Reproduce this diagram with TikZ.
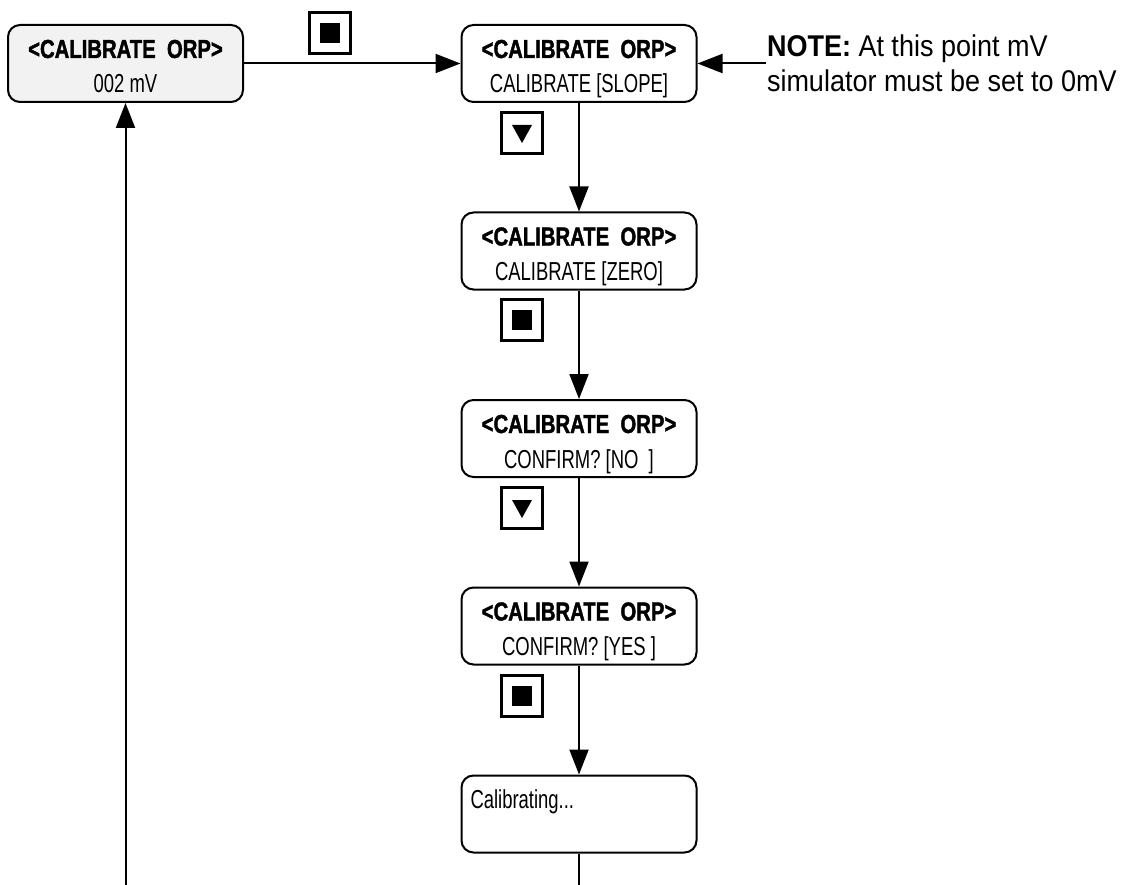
\documentclass[tikz,border=0pt]{standalone}
\usepackage{fontspec}
\setmainfont{Liberation Sans}
\newfontfamily\screenfont[FakeStretch=0.71]{Liberation Sans}
\newfontfamily\titlefont[FakeStretch=0.78, FakeBold=1.5]{Liberation Sans Bold}
\newfontfamily\notefont[FakeStretch=0.9]{Liberation Sans}
\usetikzlibrary{arrows.meta}

\newcommand{\topstrut}{\rule{0pt}{30pt}}
\newcommand{\botstrut}{\rule[-6pt]{0pt}{6pt}}
\newcommand{\orptitle}{\topstrut{\titlefont <CALIBRATE\ \ ORP>}}

\tikzset{
  screen/.style={draw, line width=2pt, rounded corners=12pt,
    minimum width=235pt, minimum height=77pt, inner sep=0pt,
    align=center, font=\screenfont\fontsize{26}{35}\selectfont},
  key/.style={draw, line width=2.4pt, minimum size=41pt, inner sep=0pt},
  key stop/.style={key, path picture={
    \fill (path picture bounding box.center) ++(-10pt,-10pt) rectangle ++(20pt,20pt);}},
  key down/.style={key, path picture={
    \fill (path picture bounding box.center) ++(-10pt,8pt) -- ++(20pt,0pt) -- ++(-10pt,-18pt) -- cycle;}},
  note/.style={anchor=west, align=left, inner sep=0pt,
    font=\notefont\fontsize{30}{35}\selectfont}
}

\begin{document}
\begin{tikzpicture}[x=1pt, y=-1pt, line width=2pt, >={Triangle[length=25pt,width=19pt]}]
\useasboundingbox (0,0) rectangle (1129,885);

% screens
\node [screen, fill=black!5] (reading) at (125.5,63.5) {\orptitle\\002 mV\botstrut};

\foreach \l [count=\i] in {CALIBRATE [SLOPE], CALIBRATE [ZERO], CONFIRM? [NO\ \ ], CONFIRM? [YES\ ]}
  \node [screen] (screen-\i) at (579,187.5*\i-124) {\orptitle\\\l\botstrut};

\node [screen, align=left, text width=217pt, inner xsep=9pt] (screen-5) at (579,814) {\topstrut Calibrating...\\\botstrut};

% keys
\node [key stop] (key-0) at (330,33) {};
\foreach \k/\y [count=\i] in {down/133, stop/320, down/508, stop/696}
  \node [key \k] (key-\i) at (522,\y) {};

% note
\node [note] (note) at (766,63.5) {\textbf{NOTE:} At this point mV\\simulator must be set to 0mV};

\coordinate (bottom-left) at (125.5,885);
\coordinate (bottom-right) at (579,885);

% connectors
\draw [->] (reading) -- (screen-1);
\draw [->] (note.west) -- (note.west -| screen-1.east);

\foreach \i/\j in {1/2, 2/3, 3/4, 4/5}
  \draw [->] (screen-\i) -- (screen-\j);

\draw (screen-5) -- (bottom-right);
\draw [->] (bottom-left) -- (reading);

\end{tikzpicture}
\end{document}
